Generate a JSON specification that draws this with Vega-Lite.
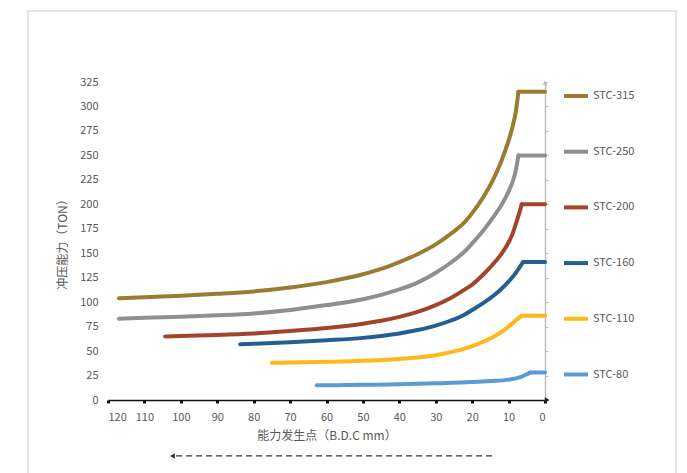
{
  "$schema": "https://vega.github.io/schema/vega-lite/v6.json",
  "width": 437,
  "height": 318,
  "autosize": {"type": "none"},
  "padding": {"left": 108, "top": 82, "right": 142, "bottom": 73},
  "background": "white",
  "config": {"view": {"stroke": null}, "font": "Noto Sans CJK SC"},
  "datasets": {
    "curves": [
      {"s":"STC-315","p":"c","d":117,"t":104},{"s":"STC-315","p":"c","d":110,"t":105},{"s":"STC-315","p":"c","d":100,"t":106.5},{"s":"STC-315","p":"c","d":90,"t":108.5},{"s":"STC-315","p":"c","d":80,"t":111},{"s":"STC-315","p":"c","d":70,"t":115},{"s":"STC-315","p":"c","d":60,"t":120.5},{"s":"STC-315","p":"c","d":50,"t":128.5},{"s":"STC-315","p":"c","d":45,"t":134},{"s":"STC-315","p":"c","d":40,"t":141},{"s":"STC-315","p":"c","d":35,"t":149},{"s":"STC-315","p":"c","d":30,"t":159},{"s":"STC-315","p":"c","d":26,"t":169.5},{"s":"STC-315","p":"c","d":22,"t":182},{"s":"STC-315","p":"c","d":20,"t":191},{"s":"STC-315","p":"c","d":17,"t":207},{"s":"STC-315","p":"c","d":14,"t":227},{"s":"STC-315","p":"c","d":12,"t":244},{"s":"STC-315","p":"c","d":10,"t":265},{"s":"STC-315","p":"c","d":9,"t":278},{"s":"STC-315","p":"c","d":8,"t":295},{"s":"STC-315","p":"c","d":7.3,"t":315},{"s":"STC-315","p":"f","d":7.3,"t":315},{"s":"STC-315","p":"f","d":0,"t":315},
      {"s":"STC-250","p":"c","d":117,"t":83},{"s":"STC-250","p":"c","d":110,"t":84},{"s":"STC-250","p":"c","d":100,"t":85},{"s":"STC-250","p":"c","d":90,"t":86.5},{"s":"STC-250","p":"c","d":80,"t":88.5},{"s":"STC-250","p":"c","d":70,"t":92},{"s":"STC-250","p":"c","d":60,"t":97},{"s":"STC-250","p":"c","d":50,"t":103},{"s":"STC-250","p":"c","d":45,"t":107.5},{"s":"STC-250","p":"c","d":40,"t":113},{"s":"STC-250","p":"c","d":35,"t":120},{"s":"STC-250","p":"c","d":30,"t":130},{"s":"STC-250","p":"c","d":26,"t":140},{"s":"STC-250","p":"c","d":22,"t":152},{"s":"STC-250","p":"c","d":20,"t":160},{"s":"STC-250","p":"c","d":17,"t":173},{"s":"STC-250","p":"c","d":14,"t":188},{"s":"STC-250","p":"c","d":12,"t":199},{"s":"STC-250","p":"c","d":10,"t":213},{"s":"STC-250","p":"c","d":9,"t":222},{"s":"STC-250","p":"c","d":8,"t":235},{"s":"STC-250","p":"c","d":7.3,"t":250},{"s":"STC-250","p":"f","d":7.3,"t":250},{"s":"STC-250","p":"f","d":0,"t":250},
      {"s":"STC-200","p":"c","d":104.3,"t":65},{"s":"STC-200","p":"c","d":100,"t":65.5},{"s":"STC-200","p":"c","d":90,"t":66.5},{"s":"STC-200","p":"c","d":80,"t":68},{"s":"STC-200","p":"c","d":70,"t":70.5},{"s":"STC-200","p":"c","d":60,"t":73.5},{"s":"STC-200","p":"c","d":50,"t":78},{"s":"STC-200","p":"c","d":45,"t":81},{"s":"STC-200","p":"c","d":40,"t":85},{"s":"STC-200","p":"c","d":35,"t":90},{"s":"STC-200","p":"c","d":30,"t":97},{"s":"STC-200","p":"c","d":26,"t":104},{"s":"STC-200","p":"c","d":22,"t":113},{"s":"STC-200","p":"c","d":20,"t":118},{"s":"STC-200","p":"c","d":17,"t":128},{"s":"STC-200","p":"c","d":14,"t":140},{"s":"STC-200","p":"c","d":12,"t":149},{"s":"STC-200","p":"c","d":10,"t":161},{"s":"STC-200","p":"c","d":9,"t":169},{"s":"STC-200","p":"c","d":8,"t":180},{"s":"STC-200","p":"c","d":7,"t":192},{"s":"STC-200","p":"c","d":6.4,"t":200},{"s":"STC-200","p":"f","d":6.4,"t":200},{"s":"STC-200","p":"f","d":0,"t":200},
      {"s":"STC-160","p":"c","d":83.7,"t":57},{"s":"STC-160","p":"c","d":80,"t":57.5},{"s":"STC-160","p":"c","d":70,"t":59},{"s":"STC-160","p":"c","d":60,"t":61},{"s":"STC-160","p":"c","d":50,"t":63.5},{"s":"STC-160","p":"c","d":45,"t":65.5},{"s":"STC-160","p":"c","d":40,"t":68},{"s":"STC-160","p":"c","d":35,"t":71.5},{"s":"STC-160","p":"c","d":30,"t":76},{"s":"STC-160","p":"c","d":26,"t":81},{"s":"STC-160","p":"c","d":22,"t":87.5},{"s":"STC-160","p":"c","d":20,"t":92},{"s":"STC-160","p":"c","d":17,"t":99},{"s":"STC-160","p":"c","d":14,"t":107},{"s":"STC-160","p":"c","d":12,"t":113.5},{"s":"STC-160","p":"c","d":10,"t":121},{"s":"STC-160","p":"c","d":8,"t":130},{"s":"STC-160","p":"c","d":7,"t":135.5},{"s":"STC-160","p":"c","d":6,"t":141},{"s":"STC-160","p":"f","d":6,"t":141},{"s":"STC-160","p":"f","d":0,"t":141},
      {"s":"STC-110","p":"c","d":75,"t":38},{"s":"STC-110","p":"c","d":70,"t":38.3},{"s":"STC-110","p":"c","d":60,"t":39},{"s":"STC-110","p":"c","d":50,"t":40},{"s":"STC-110","p":"c","d":40,"t":42},{"s":"STC-110","p":"c","d":35,"t":43.5},{"s":"STC-110","p":"c","d":30,"t":45.8},{"s":"STC-110","p":"c","d":26,"t":48.8},{"s":"STC-110","p":"c","d":22,"t":52.5},{"s":"STC-110","p":"c","d":20,"t":55},{"s":"STC-110","p":"c","d":17,"t":59.5},{"s":"STC-110","p":"c","d":14,"t":65},{"s":"STC-110","p":"c","d":12,"t":69.5},{"s":"STC-110","p":"c","d":10,"t":75},{"s":"STC-110","p":"c","d":8,"t":81.5},{"s":"STC-110","p":"c","d":6.5,"t":86},{"s":"STC-110","p":"f","d":6.5,"t":86},{"s":"STC-110","p":"f","d":0,"t":86},
      {"s":"STC-80","p":"c","d":62.7,"t":15},{"s":"STC-80","p":"c","d":50,"t":15.5},{"s":"STC-80","p":"c","d":40,"t":16},{"s":"STC-80","p":"c","d":30,"t":17},{"s":"STC-80","p":"c","d":20,"t":18.3},{"s":"STC-80","p":"c","d":15,"t":19.3},{"s":"STC-80","p":"c","d":10,"t":20.8},{"s":"STC-80","p":"c","d":7,"t":23},{"s":"STC-80","p":"c","d":5.5,"t":25.5},{"s":"STC-80","p":"c","d":4.1,"t":28},{"s":"STC-80","p":"f","d":4.1,"t":28},{"s":"STC-80","p":"f","d":0,"t":28}
    ],
    "frame": [{"x1": 141.97, "x2": -35.97, "y1": 397.6, "y2": -100}],
    "dash": [{"x1": 101.3, "x2": 14.55, "y": -57.2}],
    "heads": [
      {"x": 102.3, "y": -57.2, "shape": "triangle-left", "c": "#333333"},
      {"x": -0.6, "y": 0, "shape": "triangle-right", "c": "#222222"},
      {"x": 0, "y": 324, "shape": "triangle-up", "c": "#BFBFBF"}
    ]
  },
  "layer": [
    {
      "data": {"name": "frame"},
      "mark": {"type": "rect", "fill": null, "stroke": "#DDDDDD", "strokeWidth": 1.5},
      "encoding": {
        "x": {"field": "x1", "type": "quantitative", "scale": {"domain": [0, 120], "reverse": true}, "axis": null},
        "x2": {"field": "x2"},
        "y": {"field": "y1", "type": "quantitative", "scale": {"domain": [0, 325]}, "axis": null},
        "y2": {"field": "y2"}
      }
    },
    {
      "data": {"name": "curves"},
      "mark": {"type": "point", "opacity": 0},
      "encoding": {
        "x": {"field": "d", "type": "quantitative", "scale": {"domain": [0, 120], "reverse": true}, "axis": null},
        "y": {"field": "t", "type": "quantitative", "scale": {"domain": [0, 325]},
          "axis": {"orient": "right", "labels": false, "title": null, "grid": false, "domainColor": "#BFBFBF", "domainWidth": 1.5, "tickColor": "#BFBFBF", "tickSize": 3, "values": [0,25,50,75,100,125,150,175,200,225,250,275,300,325]}}
      }
    },
    {
      "data": {"name": "curves"},
      "mark": {"type": "line", "strokeWidth": 4, "strokeJoin": "round", "strokeCap": "round", "interpolate": "monotone"},
      "encoding": {
        "x": {"field": "d", "type": "quantitative", "scale": {"domain": [0, 120], "reverse": true},
          "axis": {"values": [0,10,20,30,40,50,60,70,80,90,100,110,120], "grid": false, "domainColor": "#111111", "domainWidth": 1.5, "tickColor": "#111111", "tickSize": 3, "tickWidth": 3, "labelColor": "#595959", "labelFontSize": 11, "labelPadding": 8, "title": "能力发生点（B.D.C mm）", "titleFontSize": 12, "titleFontWeight": "normal", "titleColor": "#595959", "titlePadding": 8}},
        "y": {"field": "t", "type": "quantitative", "scale": {"domain": [0, 325]},
          "axis": {"values": [0,25,50,75,100,125,150,175,200,225,250,275,300,325], "grid": false, "domain": false, "ticks": false, "labelColor": "#595959", "labelFontSize": 11, "labelPadding": 10, "title": "冲压能力（TON）", "titleFontSize": 12, "titleFontWeight": "normal", "titleColor": "#595959", "titlePadding": 10}},
        "detail": {"field": "p", "type": "nominal"},
        "color": {"field": "s", "type": "nominal",
          "scale": {"domain": ["STC-315","STC-250","STC-200","STC-160","STC-110","STC-80"], "range": ["#9B7B32","#8F8F8F","#A3432B","#255E91","#FFB81C","#5B9BD5"]},
          "legend": {"orient": "right", "offset": 13, "padding": 0, "title": null, "symbolType": "stroke", "symbolSize": 576, "symbolStrokeWidth": 4, "labelFontSize": 11, "labelColor": "#595959", "labelOffset": 3, "rowPadding": 33.7}}
      }
    },
    {
      "data": {"name": "dash"},
      "mark": {"type": "rule", "strokeDash": [6, 4], "strokeWidth": 1.3, "color": "#333333"},
      "encoding": {
        "x": {"field": "x1", "type": "quantitative", "scale": {"domain": [0, 120], "reverse": true}, "axis": null},
        "x2": {"field": "x2"},
        "y": {"field": "y", "type": "quantitative", "scale": {"domain": [0, 325]}, "axis": null}
      }
    },
    {
      "data": {"name": "heads"},
      "mark": {"type": "point", "filled": true, "size": 30, "opacity": 1},
      "encoding": {
        "x": {"field": "x", "type": "quantitative", "scale": {"domain": [0, 120], "reverse": true}, "axis": null},
        "y": {"field": "y", "type": "quantitative", "scale": {"domain": [0, 325]}, "axis": null},
        "shape": {"field": "shape", "type": "nominal", "scale": null},
        "color": {"field": "c", "type": "nominal", "scale": null}
      }
    }
  ],
  "resolve": {"axis": {"y": "independent", "x": "independent"}}
}
